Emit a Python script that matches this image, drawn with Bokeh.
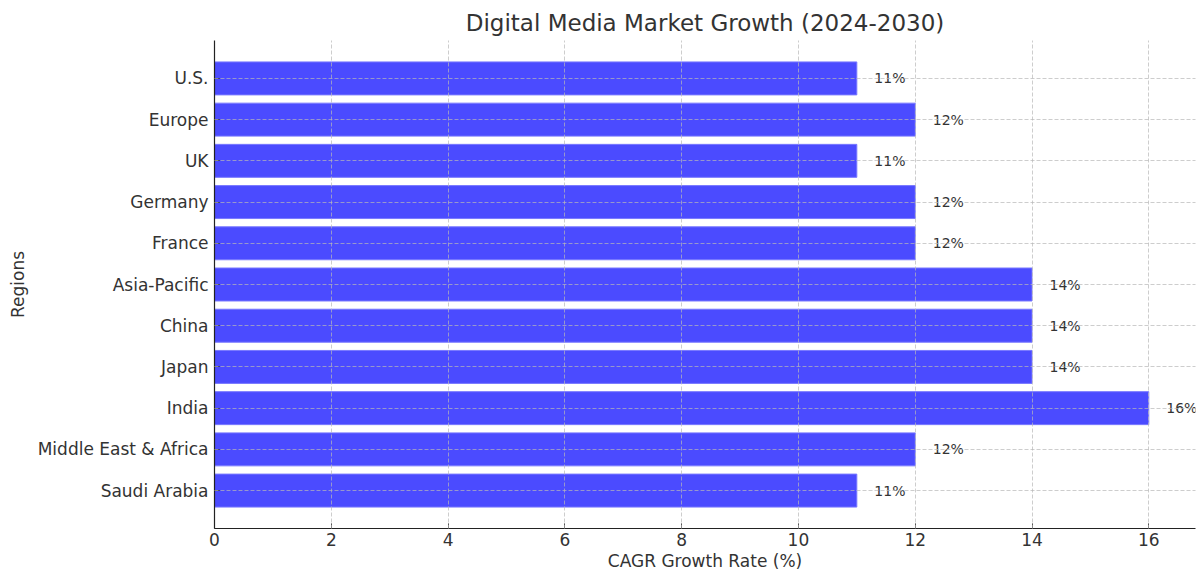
from bokeh.plotting import figure
from bokeh.models import ColumnDataSource, Range1d, FixedTicker, Title
from bokeh.embed import file_html
from bokeh.resources import INLINE
from bokeh.core.properties import value

regions = ["U.S.", "Europe", "UK", "Germany", "France", "Asia-Pacific", "China",
           "Japan", "India", "Middle East & Africa", "Saudi Arabia"]
cagr = [11, 12, 11, 12, 12, 14, 14, 14, 16, 12, 11]
x_ticks = [0, 2, 4, 6, 8, 10, 12, 14, 16]

n = len(regions)
ypos = [n - 1 - i for i in range(n)]
labels = [f"{v}%" for v in cagr]
label_x = [v + 0.3 for v in cagr]

src = ColumnDataSource(dict(y=ypos, v=cagr, lab=labels, lx=label_x, name=regions))

FONT = "DejaVu Sans"
TXT = "#333333"
XMAX = 16.8
YMIN, YMAX = -0.92, n - 1 + 0.92

p = figure(width=1204, height=573, output_backend="svg", toolbar_location=None,
           x_range=Range1d(0, XMAX), y_range=Range1d(YMIN, YMAX),
           min_border_left=214, min_border_right=9, min_border_top=40, min_border_bottom=45,
           title="Digital Media Market Growth (2024-2030)")

p.hbar(y="y", right="v", left=0, height=0.8, source=src,
       fill_color="#4B4BFF", line_color="#7878FF", line_width=1)

p.text(x="lx", y="y", text="lab", source=src, text_align="left", text_baseline="middle",
       text_font=value(FONT), text_font_size="14px", text_color=TXT)

p.title.align = "center"
p.title.text_font = FONT
p.title.text_font_size = "23px"
p.title.text_font_style = "normal"
p.title.text_color = TXT

p.outline_line_color = None
p.background_fill_color = "white"
p.border_fill_color = "white"

for ax in (p.xaxis[0], p.yaxis[0]):
    ax.axis_line_color = "#222222"
    ax.axis_line_width = 1.2
    ax.major_tick_line_color = "#222222"
    ax.major_tick_in = 5
    ax.major_tick_out = 0
    ax.minor_tick_line_color = None
    ax.major_label_text_font = FONT
    ax.major_label_text_font_size = "17px"
    ax.major_label_text_color = TXT
    ax.axis_label_text_font = FONT
    ax.axis_label_text_font_size = "17px"
    ax.axis_label_text_font_style = "normal"
    ax.axis_label_text_color = TXT
    ax.major_label_standoff = 6

p.xaxis.ticker = FixedTicker(ticks=x_ticks)
p.xaxis.major_label_standoff = 4

xtitle = Title(text="CAGR Growth Rate (%)", align="center", text_font=FONT,
               text_font_size="17px", text_font_style="normal", text_color=TXT,
               standoff=0, offset=0)
p.add_layout(xtitle, "below")

p.yaxis.ticker = FixedTicker(ticks=ypos)
p.yaxis.major_label_overrides = {y: r for y, r in zip(ypos, regions)}
p.yaxis.axis_label = "Regions"
p.yaxis.axis_label_standoff = 7

for g in (p.xgrid[0], p.ygrid[0]):
    g.grid_line_color = "#b8b8b8"
    g.grid_line_alpha = 0.7
    g.grid_line_dash = "4 2"
    g.grid_line_width = 1
    g.level = "overlay"
p.ygrid.ticker = FixedTicker(ticks=ypos)

open("out.html", "w").write(file_html(p, INLINE))
